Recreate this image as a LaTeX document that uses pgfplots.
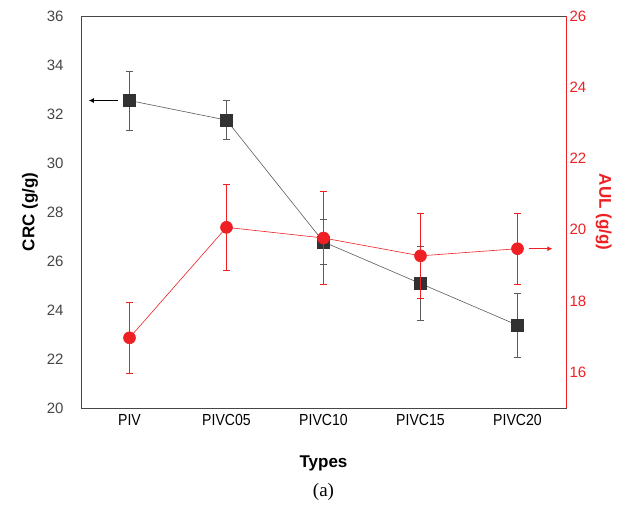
\documentclass[border=0pt]{standalone}
\usepackage{pgfplots}
\pgfplotsset{compat=1.18}
\usepackage{fontspec}
\setmainfont{Liberation Sans}
\newfontfamily\seriffont{Liberation Serif}
\newfontfamily\narrowfont[FakeStretch=0.88]{Liberation Sans}
\usetikzlibrary{arrows.meta}
\definecolor{myred}{RGB}{238,32,36}
\definecolor{mydark}{RGB}{50,50,50}
\definecolor{axgray}{RGB}{70,70,70}
\begin{document}
\begin{tikzpicture}
\pgfplotsset{
  common/.style={
    scale only axis, width=485pt, height=392pt,
    xmin=-0.5, xmax=4.5,
    major tick length=0pt,
    /pgf/number format/assume math mode=true,
    tick label style={font=\fontsize{15}{15}\selectfont},
  }
}
\begin{axis}[common, name=main,
  ymin=20, ymax=36, ytick={20,22,...,36},
  xtick={0,1,2,3,4},
  xticklabels={PIV,PIVC05,PIVC10,PIVC15,PIVC20},
  xticklabel style={font=\fontsize{16}{16}\selectfont\narrowfont, text=black, yshift=-3pt},
  yticklabel style={text=axgray, xshift=-14pt},
  axis line style={axgray, line width=0.8pt},
  ylabel={\bfseries CRC (g/g)},
  ylabel style={at={(axis description cs:-0.105,0.5)}, anchor=center, rotate=0, font=\fontsize{17}{17}\selectfont},
]
\addplot[mydark!80, line width=0.6pt, mark=square*, mark size=6pt,
  mark options={fill=mydark, draw=mydark, solid},
  error bars/.cd, y dir=both, y explicit,
  error bar style={mydark!80, line width=0.8pt},
  error mark options={mydark!80, line width=0.8pt, mark size=3.5pt, rotate=90}]
  coordinates {
  (0,32.55) +- (0,1.2)
  (1,31.75) +- (0,0.8)
  (2,26.78) +- (0,0.9)
  (3,25.08) +- (0,1.5)
  (4,23.38) +- (0,1.3)
  };
\draw[black, line width=1pt, -{Latex[length=5pt,width=5pt]}] (axis cs:-0.12,32.55) -- (axis cs:-0.42,32.55);
\end{axis}
\begin{axis}[common,
  axis y line*=right, axis x line=none,
  ymin=15, ymax=26, ytick={16,18,...,26},
  yticklabel style={text=myred},
  y axis line style={myred, line width=0.8pt},
  ylabel={\bfseries AUL (g/g)},
  ylabel style={at={(axis description cs:1.078,0.5)}, anchor=center, rotate=180, text=myred, font=\fontsize{17}{17}\selectfont},
]
\addplot[myred, line width=0.6pt, mark=*, mark size=6pt,
  mark options={fill=myred, draw=myred, solid},
  error bars/.cd, y dir=both, y explicit,
  error bar style={myred, line width=0.8pt},
  error mark options={myred, line width=0.8pt, mark size=3.5pt, rotate=90}]
  coordinates {
  (0,16.97) +- (0,1.0)
  (1,20.07) +- (0,1.2)
  (2,19.77) +- (0,1.3)
  (3,19.27) +- (0,1.2)
  (4,19.47) +- (0,1.0)
  };
\draw[myred, line width=1pt, -{Latex[length=5pt,width=5pt]}] (axis cs:4.12,19.47) -- (axis cs:4.36,19.47);
\end{axis}
\node[font=\fontsize{17}{17}\selectfont\bfseries] at ([yshift=-55pt]main.south) {Types};
\node[font=\fontsize{19}{19}\selectfont\seriffont] at ([yshift=-84pt]main.south) {(a)};
\path (main.south west) ++(-81pt,-101pt) coordinate (bl);
\path (main.north east) ++(51pt,16pt) coordinate (tr);
\path (bl) rectangle (tr);
\end{tikzpicture}
\end{document}
